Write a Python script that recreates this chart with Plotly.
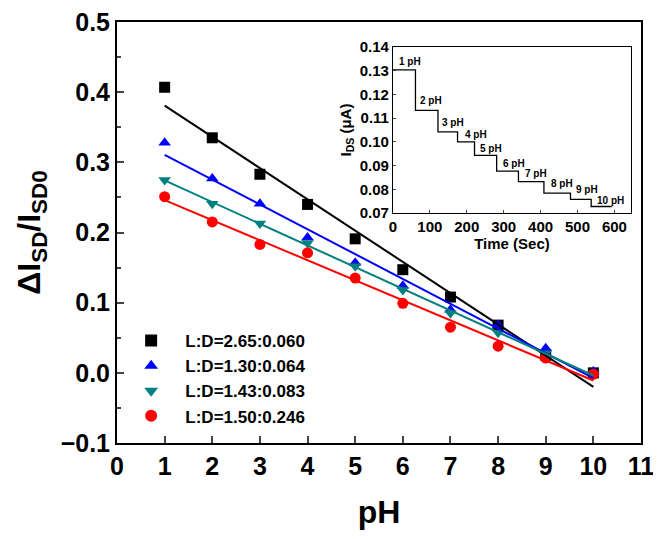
import numpy as np
import plotly.graph_objects as go

# ---------------- data ----------------
ph = [1, 2, 3, 4, 5, 6, 7, 8, 9, 10]
series_names = ["L:D=2.65:0.060", "L:D=1.30:0.064", "L:D=1.43:0.083", "L:D=1.50:0.246"]
y_265 = [0.407, 0.335, 0.283, 0.240, 0.191, 0.147, 0.108, 0.068, 0.025, 0.000]
y_130 = [0.328, 0.277, 0.241, 0.193, 0.157, 0.124, 0.090, 0.068, 0.035, 0.002]
y_143 = [0.275, 0.241, 0.213, 0.185, 0.152, 0.118, 0.085, 0.057, 0.028, -0.002]
y_150 = [0.251, 0.215, 0.183, 0.171, 0.135, 0.099, 0.065, 0.038, 0.021, -0.002]

# inset: I_DS vs time (step levels)
step_times = [0, 61, 122, 175, 221, 281, 340, 409, 481, 537, 593]
step_levels = [0.1304, 0.1133, 0.1042, 0.1000, 0.0943, 0.0877, 0.0833, 0.0784, 0.0758, 0.0728, 0.0728]
step_labels = ["1 pH", "2 pH", "3 pH", "4 pH", "5 pH", "6 pH", "7 pH", "8 pH", "9 pH", "10 pH"]
label_t = [12, 68, 128, 189, 230, 293, 351, 422, 490, 548]
label_i = [0.1337, 0.1175, 0.1081, 0.1030, 0.0974, 0.0908, 0.0866, 0.0824, 0.0798, 0.0753]

colors = ["#000000", "#0000ff", "#008080", "#ff0000"]
symbols = ["square", "triangle-up", "triangle-down", "circle"]
FONT = "Liberation Sans, Arial, sans-serif"
PAD = "\u00a0\u00a0\u00a0"

fig = go.Figure()
all_y = [y_265, y_130, y_143, y_150]
for name, ys, c, s in zip(series_names, all_y, colors, symbols):
    fig.add_trace(go.Scatter(x=ph, y=ys, mode="markers", name=PAD + name,
                             marker=dict(symbol=s, size=11, color=c, line=dict(width=0)),
                             xaxis="x", yaxis="y"))
for ys, c in zip(all_y, colors):
    k, b = np.polyfit(ph, ys, 1)
    xs = np.array([ph[0], ph[-1]])
    fig.add_trace(go.Scatter(x=xs, y=k * xs + b, mode="lines", showlegend=False,
                             line=dict(color=c, width=2), xaxis="x", yaxis="y"))

fig.add_trace(go.Scatter(x=step_times, y=step_levels, mode="lines", line_shape="hv",
                         line=dict(color="#000000", width=1.3), showlegend=False,
                         xaxis="x2", yaxis="y2"))

for txt, t, v in zip(step_labels, label_t, label_i):
    fig.add_annotation(x=t, y=v, xref="x2", yref="y2", text=txt, showarrow=False,
                       xanchor="left", yanchor="middle",
                       font=dict(size=10, family=FONT, color="#000000", weight="bold"))

ins_x0, ins_x1 = 0.5266, 0.981
ins_y0, ins_y1 = 0.546, 0.9406

fig.update_layout(
    width=653, height=531,
    margin=dict(l=109, r=20, t=14, b=96, autoexpand=False),
    paper_bgcolor="white", plot_bgcolor="white",
    font=dict(family=FONT, color="#000000", weight="bold"),
    showlegend=True,
    legend=dict(x=0.027, y=0.285, xanchor="left", yanchor="top",
                bgcolor="rgba(0,0,0,0)", font=dict(size=17, family=FONT, weight="bold"),
                tracegroupgap=0, itemsizing="constant"),
    xaxis=dict(range=[0, 11], dtick=1, tick0=0, ticks="inside", ticklen=7, tickwidth=2,
               automargin=False, ticklabeloverflow="allow",
               showline=True, linewidth=2, linecolor="black", mirror=True,
               showgrid=False, zeroline=False,
               tickfont=dict(size=25, family=FONT, weight="bold"),
               title=dict(text="pH", font=dict(size=32, family=FONT, weight="bold"), standoff=22)),
    yaxis=dict(range=[-0.1, 0.5], dtick=0.1, tickformat=".1f", ticks="inside", ticklen=7, tickwidth=2,
               automargin=False, ticklabeloverflow="allow",
               minor=dict(dtick=0.05, ticks="inside", ticklen=4, tickwidth=2),
               showline=True, linewidth=2, linecolor="black", mirror=True,
               showgrid=False, zeroline=False,
               tickfont=dict(size=25, family=FONT, weight="bold"),
               title=dict(text="ΔI<sub>SD</sub>/I<sub>SD0</sub>",
                          font=dict(size=32, family=FONT, weight="bold"), standoff=10)),
    xaxis2=dict(domain=[ins_x0, ins_x1], anchor="y2", range=[0, 645], dtick=100,
                ticks="inside", ticklen=3, tickwidth=1, automargin=False,
                showline=True, linewidth=1, linecolor="black", mirror=True,
                showgrid=False, zeroline=False,
                tickfont=dict(size=15, family=FONT, weight="bold"),
                title=dict(text="Time (Sec)", font=dict(size=15, family=FONT, weight="bold"), standoff=4)),
    yaxis2=dict(domain=[ins_y0, ins_y1], anchor="x2", range=[0.07, 0.14], dtick=0.01,
                tickformat=".2f", ticks="inside", ticklen=3, tickwidth=1, automargin=False,
                showline=True, linewidth=1, linecolor="black", mirror=True,
                showgrid=False, zeroline=False,
                tickfont=dict(size=15, family=FONT, weight="bold"),
                title=dict(text="I<sub>DS</sub> (μA)", font=dict(size=15, family=FONT, weight="bold"), standoff=4)),
)

fig.write_html("out.html")
